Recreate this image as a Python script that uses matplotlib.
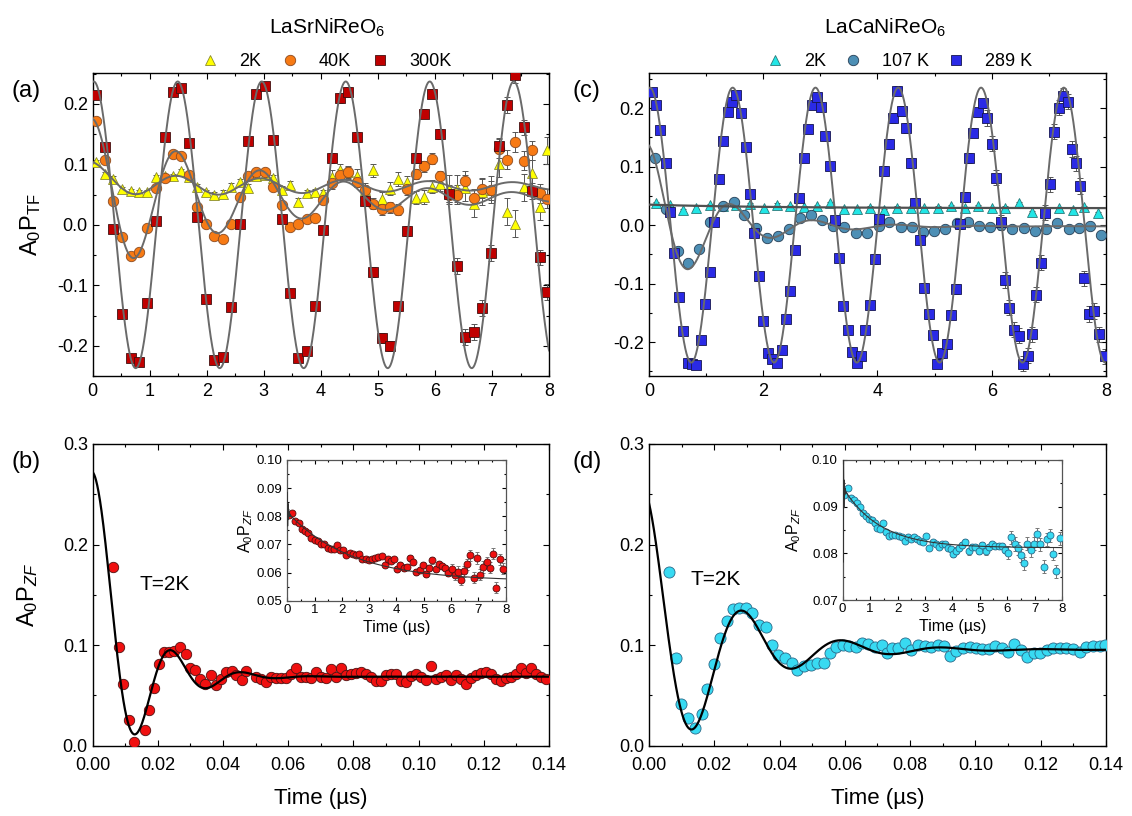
import numpy as np
import matplotlib
matplotlib.use("Agg")
import matplotlib.pyplot as plt
from matplotlib.ticker import MultipleLocator, FormatStrFormatter

plt.rcParams['font.family'] = ['Liberation Sans', 'DejaVu Sans']
plt.rcParams['mathtext.fontset'] = 'custom'
plt.rcParams['mathtext.rm'] = 'Liberation Sans'
plt.rcParams['mathtext.it'] = 'Liberation Sans:italic'
plt.rcParams['mathtext.default'] = 'regular'
plt.rcParams['axes.unicode_minus'] = False

# ---------------- panel (a): LaSrNiReO6, transverse field ----------------
t_a = [0.06, 0.21, 0.36, 0.51, 0.67, 0.81, 0.96, 1.11, 1.26, 1.40,
       1.54, 1.69, 1.83, 1.99, 2.13, 2.28, 2.43, 2.58, 2.73, 2.87,
       3.02, 3.16, 3.31, 3.46, 3.60, 3.75, 3.90, 4.04, 4.19, 4.33,
       4.47, 4.63, 4.77, 4.92, 5.07, 5.21, 5.36, 5.51, 5.66, 5.80,
       5.94, 6.09, 6.24, 6.38, 6.53, 6.68, 6.83, 6.98, 7.12, 7.26,
       7.41, 7.56, 7.71, 7.85, 7.97]
a_300K = [0.214, 0.129, -0.007, -0.147, -0.221, -0.227, -0.130, 0.007, 0.145, 0.219,
          0.227, 0.136, 0.013, -0.122, -0.223, -0.218, -0.136, 0.002, 0.139, 0.216,
          0.229, 0.141, 0.010, -0.113, -0.220, -0.209, -0.134, -0.009, 0.111, 0.210,
          0.220, 0.145, 0.040, -0.078, -0.187, -0.200, -0.135, -0.010, 0.110, 0.184,
          0.217, 0.150, 0.051, -0.068, -0.186, -0.177, -0.137, -0.047, 0.131, 0.198,
          0.248, 0.161, 0.056, -0.054, -0.111]
a_40K = [0.171, 0.108, 0.040, -0.020, -0.052, -0.045, -0.006, 0.061, 0.078, 0.117,
         0.113, 0.083, 0.030, 0.001, -0.019, -0.023, 0.001, 0.046, 0.081, 0.088,
         0.087, 0.062, 0.032, -0.003, 0.001, 0.009, 0.012, 0.041, 0.069, 0.083,
         0.087, 0.071, 0.057, 0.035, 0.026, 0.029, 0.025, 0.059, 0.084, 0.097,
         0.109, 0.080, 0.050, 0.050, 0.073, 0.044, 0.060, 0.057, 0.126, 0.108,
         0.137, 0.106, 0.123, 0.052, 0.043]
a_2K = [0.104, 0.084, 0.076, 0.059, 0.056, 0.054, 0.054, 0.079, 0.080, 0.080,
        0.089, 0.079, 0.063, 0.054, 0.049, 0.051, 0.063, 0.070, 0.061, 0.081,
        0.083, 0.077, 0.058, 0.066, 0.038, 0.052, 0.054, 0.052, 0.079, 0.090,
        0.087, 0.081, 0.058, 0.090, 0.043, 0.060, 0.076, 0.070, 0.045, 0.046,
        0.063, 0.067, 0.060, 0.060, 0.061, 0.035, 0.055, 0.058, 0.101, 0.022,
        0.002, 0.062, 0.086, 0.030, 0.123]
err_a_300K = [0.003] * 14 + [0.005] * 14 + [0.008] * 14 + [0.013] * 13
err_a_40K = [0.003] * 14 + [0.005] * 14 + [0.009] * 14 + [0.016] * 13
err_a_2K = [0.004] * 14 + [0.006] * 14 + [0.011] * 14 + [0.022] * 13

# fit parameters
freq_a = 0.679
fit_a_300K = dict(amp=0.237, phase=-0.075)
fit_a_40K = dict(base=0.045, amp=0.13, rate=0.36)
fit_a_2K = dict(base=0.064, slow_amp=0.02, slow_rate=2.0, amp=0.02, rate=0.15)

# ---------------- panel (c): LaCaNiReO6, transverse field ----------------
t_c_289K = [0.05, 0.12, 0.20, 0.29, 0.36, 0.43, 0.52, 0.60, 0.68, 0.75,
            0.83, 0.91, 0.98, 1.07, 1.14, 1.23, 1.30, 1.38, 1.45, 1.53,
            1.61, 1.69, 1.77, 1.84, 1.93, 2.00, 2.08, 2.16, 2.24, 2.33,
            2.40, 2.47, 2.56, 2.63, 2.71, 2.78, 2.86, 2.94, 3.01, 3.09,
            3.17, 3.25, 3.33, 3.40, 3.48, 3.56, 3.64, 3.72, 3.79, 3.87,
            3.95, 4.03, 4.11, 4.20, 4.27, 4.35, 4.43, 4.50, 4.58, 4.66,
            4.74, 4.81, 4.90, 4.97, 5.05, 5.13, 5.21, 5.29, 5.37, 5.44,
            5.53, 5.60, 5.68, 5.76, 5.84, 5.92, 6.00, 6.07, 6.17, 6.23,
            6.31, 6.39, 6.48, 6.55, 6.63, 6.70, 6.78, 6.86, 6.94, 7.02,
            7.09, 7.18, 7.25, 7.33, 7.41, 7.48, 7.54, 7.62, 7.71, 7.79,
            7.87, 7.98]
c_289K = [0.227, 0.205, 0.162, 0.106, 0.023, -0.047, -0.123, -0.181, -0.235, -0.238,
          -0.239, -0.197, -0.135, -0.080, 0.005, 0.078, 0.143, 0.194, 0.211, 0.223,
          0.191, 0.134, 0.054, -0.014, -0.087, -0.164, -0.218, -0.229, -0.235, -0.213,
          -0.161, -0.113, -0.042, 0.046, 0.114, 0.165, 0.205, 0.219, 0.202, 0.152,
          0.101, 0.008, -0.056, -0.139, -0.180, -0.217, -0.235, -0.223, -0.179, -0.137,
          -0.058, 0.010, 0.093, 0.139, 0.183, 0.230, 0.195, 0.166, 0.106, 0.038,
          -0.025, -0.107, -0.152, -0.188, -0.237, -0.219, -0.203, -0.153, -0.109, 0.002,
          0.048, 0.115, 0.158, 0.193, 0.208, 0.183, 0.139, 0.081, 0.005, -0.094,
          -0.141, -0.179, -0.189, -0.237, -0.223, -0.187, -0.119, -0.064, 0.021, 0.070,
          0.160, 0.201, 0.221, 0.211, 0.130, 0.106, 0.067, -0.091, -0.152, -0.147,
          -0.187, -0.224]
err_c_289K = [0.003] * 25 + [0.005] * 25 + [0.008] * 25 + [0.013] * 27

t_c_107K = [0.11, 0.29, 0.51, 0.69, 0.88, 1.07, 1.29, 1.49, 1.67, 1.88,
            2.07, 2.26, 2.46, 2.65, 2.84, 3.03, 3.23, 3.42, 3.62, 3.81,
            4.02, 4.21, 4.41, 4.60, 4.80, 4.99, 5.19, 5.39, 5.58, 5.77,
            5.97, 6.16, 6.36, 6.56, 6.75, 6.95, 7.15, 7.35, 7.53, 7.72,
            7.91]
c_107K = [0.114, 0.027, -0.045, -0.065, -0.041, 0.005, 0.032, 0.039, 0.017, -0.005,
          -0.022, -0.018, -0.006, 0.013, 0.017, 0.009, -0.002, -0.004, -0.014, -0.013,
          -0.002, 0.005, -0.003, -0.003, -0.011, -0.010, -0.006, 0.003, 0.005, -0.001,
          -0.003, 0.000, -0.006, -0.005, -0.010, -0.006, 0.004, -0.006, -0.005, -0.001,
          -0.017]
err_c_107K = [0.004] * 41

t_c_2K = [0.12, 0.36, 0.60, 0.83, 1.07, 1.30, 1.53, 1.77, 2.01, 2.24,
          2.47, 2.71, 2.94, 3.17, 3.41, 3.64, 3.87, 4.11, 4.35, 4.58,
          4.82, 5.06, 5.29, 5.53, 5.76, 6.00, 6.23, 6.47, 6.70, 6.94,
          7.18, 7.42, 7.62, 7.86]
c_2K = [0.038, 0.034, 0.026, 0.030, 0.034, 0.033, 0.034, 0.036, 0.029, 0.035,
        0.032, 0.031, 0.033, 0.037, 0.027, 0.028, 0.030, 0.025, 0.030, 0.029,
        0.029, 0.030, 0.032, 0.029, 0.032, 0.029, 0.030, 0.038, 0.022, 0.025,
        0.029, 0.026, 0.031, 0.021]
err_c_2K = [0.002] * 34

freq_c = 0.690
fit_c_289K = dict(amp=0.235, phase=-0.07)
fit_c_107K = dict(base=-0.002, amp=0.138, rate=0.9)
fit_c_2K = dict(base=0.029, amp=0.006, rate=0.5)

# ---------------- panel (b): LaSrNiReO6, zero field, T=2K ----------------
t_b = [0.0063, 0.0080, 0.0094, 0.0111, 0.0126, 0.0159, 0.0173, 0.0189, 0.0204, 0.0218,
       0.0234, 0.0250, 0.0267, 0.0285, 0.0298, 0.0314, 0.0329, 0.0346, 0.0362, 0.0377,
       0.0393, 0.0410, 0.0426, 0.0441, 0.0457, 0.0471, 0.0502, 0.0517, 0.0533, 0.0548,
       0.0563, 0.0579, 0.0594, 0.0609, 0.0624, 0.0640, 0.0655, 0.0670, 0.0686, 0.0701,
       0.0716, 0.0732, 0.0747, 0.0762, 0.0778, 0.0793, 0.0808, 0.0823, 0.0839, 0.0854,
       0.0869, 0.0885, 0.0900, 0.0915, 0.0931, 0.0946, 0.0961, 0.0977, 0.0992, 0.1007,
       0.1022, 0.1038, 0.1053, 0.1068, 0.1084, 0.1099, 0.1114, 0.1130, 0.1145, 0.1160,
       0.1176, 0.1191, 0.1206, 0.1221, 0.1237, 0.1252, 0.1267, 0.1283, 0.1298, 0.1313,
       0.1329, 0.1344, 0.1359, 0.1374, 0.1390]
b_2K = [0.178, 0.0985, 0.061, 0.026, 0.0035, 0.016, 0.035, 0.057, 0.081, 0.0935,
        0.0935, 0.094, 0.0985, 0.091, 0.0775, 0.075, 0.066, 0.061, 0.070, 0.060,
        0.066, 0.0735, 0.0745, 0.070, 0.065, 0.0745, 0.0686, 0.066, 0.0636, 0.0686,
        0.067, 0.067, 0.067, 0.0713, 0.0769, 0.0686, 0.0686, 0.067, 0.0736, 0.0686,
        0.067, 0.0759, 0.0686, 0.0776, 0.0703, 0.0713, 0.0719, 0.0736, 0.0713, 0.0686,
        0.0643, 0.0643, 0.0699, 0.0713, 0.0709, 0.0643, 0.0636, 0.0693, 0.0713, 0.0686,
        0.0653, 0.0792, 0.066, 0.068, 0.0703, 0.0653, 0.0703, 0.066, 0.0613, 0.067,
        0.0703, 0.0719, 0.0736, 0.0713, 0.066, 0.0646, 0.067, 0.0686, 0.0713, 0.0769,
        0.0719, 0.0776, 0.0713, 0.0686, 0.066]
err_b = [0.003] * 85
# Bessel-type (incommensurate order) fit
fit_b = dict(base=0.0686, amp=0.2034, omega=288.0, rate=18.0, gauss=700.0)

# inset of (b): long time window
t_bi = [0.06, 0.17, 0.29, 0.415, 0.525, 0.65, 0.77, 0.88, 1.00, 1.12,
        1.23, 1.355, 1.48, 1.60, 1.71, 1.81, 1.93, 2.05, 2.16, 2.28,
        2.39, 2.52, 2.64, 2.75, 2.87, 2.98, 3.10, 3.22, 3.33, 3.455,
        3.565, 3.675, 3.80, 3.92, 4.03, 4.14, 4.26, 4.38, 4.49, 4.615,
        4.725, 4.85, 4.96, 5.08, 5.20, 5.31, 5.43, 5.54, 5.665, 5.79,
        5.90, 6.02, 6.14, 6.25, 6.36, 6.47, 6.59, 6.70, 6.83, 6.95,
        7.07, 7.18, 7.30, 7.42, 7.55, 7.64, 7.78, 7.89]
bi_2K = [0.0805, 0.0813, 0.0783, 0.0776, 0.0755, 0.0749, 0.0739, 0.0724, 0.0717, 0.0712,
         0.0701, 0.0701, 0.0687, 0.0685, 0.0685, 0.0697, 0.0680, 0.0682, 0.0664, 0.0671,
         0.0666, 0.0662, 0.0665, 0.0649, 0.0649, 0.0643, 0.0648, 0.0652, 0.0656, 0.0660,
         0.0626, 0.0649, 0.0642, 0.0650, 0.0614, 0.0626, 0.0618, 0.0621, 0.0653, 0.0637,
         0.0601, 0.0609, 0.0628, 0.0596, 0.0616, 0.0643, 0.0614, 0.0630, 0.0622, 0.0615,
         0.0600, 0.0611, 0.0592, 0.0603, 0.0575, 0.0604, 0.0630, 0.0661, 0.0582, 0.0652,
         0.0592, 0.0620, 0.0637, 0.0617, 0.0667, 0.0547, 0.0647, 0.0614]
err_bi = [0.0003] * 17 + [0.0006] * 17 + [0.0011] * 17 + [0.0020] * 17
fit_bi = dict(base=0.057, amp=0.0245, rate=0.43, fast_amp=0.007, fast_rate=30.0, freq=40.0)

# ---------------- panel (d): LaCaNiReO6, zero field, T=2K ----------------
t_d = [0.0062, 0.0084, 0.0098, 0.0120, 0.0141, 0.0161, 0.0179, 0.0199, 0.0218, 0.0238,
       0.0256, 0.0277, 0.0297, 0.0317, 0.0337, 0.0357, 0.0378, 0.0396, 0.0416, 0.0437,
       0.0455, 0.0476, 0.0495, 0.0515, 0.0536, 0.0554, 0.0574, 0.0595, 0.0613, 0.0634,
       0.0654, 0.0672, 0.0693, 0.0713, 0.0728, 0.0744, 0.0764, 0.0785, 0.0804, 0.0824,
       0.0845, 0.0865, 0.0885, 0.0905, 0.0921, 0.0942, 0.0962, 0.0983, 0.1001, 0.1021,
       0.1042, 0.1061, 0.1080, 0.1100, 0.1118, 0.1139, 0.1159, 0.1179, 0.1199, 0.1219,
       0.1238, 0.1258, 0.1279, 0.1299, 0.1319, 0.1340, 0.1360, 0.1381, 0.1396]
d_2K = [0.173, 0.087, 0.041, 0.028, 0.018, 0.031, 0.056, 0.081, 0.107, 0.124,
        0.136, 0.137, 0.137, 0.132, 0.120, 0.118, 0.100, 0.090, 0.087, 0.082,
        0.0755, 0.079, 0.080, 0.082, 0.0826, 0.092, 0.098, 0.100, 0.099, 0.098,
        0.102, 0.101, 0.098, 0.100, 0.092, 0.097, 0.097, 0.102, 0.095, 0.100,
        0.099, 0.098, 0.100, 0.099, 0.089, 0.094, 0.097, 0.098, 0.097, 0.096,
        0.096, 0.099, 0.097, 0.093, 0.101, 0.095, 0.088, 0.092, 0.092, 0.095,
        0.097, 0.097, 0.097, 0.096, 0.093, 0.098, 0.099, 0.099, 0.100]
err_d = [0.002] * 69
fit_d = dict(base=0.0955, amp=0.150, rate=46.9, freq=32.8, phase=0.236)

# inset of (d): long time window
t_di = [0.05, 0.18, 0.30, 0.41, 0.535, 0.63, 0.74, 0.85, 0.96, 1.07,
        1.18, 1.24, 1.36, 1.47, 1.59, 1.70, 1.81, 1.92, 2.04, 2.15,
        2.26, 2.38, 2.49, 2.60, 2.71, 2.83, 2.94, 3.05, 3.16, 3.28,
        3.39, 3.50, 3.62, 3.73, 3.84, 3.96, 4.02, 4.13, 4.24, 4.35,
        4.47, 4.60, 4.72, 4.84, 4.97, 5.09, 5.22, 5.33, 5.45, 5.57,
        5.69, 5.81, 5.93, 6.04, 6.15, 6.27, 6.38, 6.50, 6.63, 6.74,
        6.86, 6.97, 7.09, 7.21, 7.33, 7.44, 7.56, 7.68, 7.79, 7.93]
di_2K = [0.0925, 0.0940, 0.0919, 0.0914, 0.0907, 0.0900, 0.0886, 0.0880, 0.0874, 0.0871,
         0.0864, 0.0854, 0.0852, 0.0864, 0.0846, 0.0837, 0.0839, 0.0840, 0.0837, 0.0836,
         0.0827, 0.0836, 0.0830, 0.0834, 0.0831, 0.0826, 0.0824, 0.0837, 0.0811, 0.0825,
         0.0821, 0.0814, 0.0819, 0.0819, 0.0812, 0.0809, 0.0799, 0.0806, 0.0811, 0.0818,
         0.0824, 0.0804, 0.0814, 0.0814, 0.0806, 0.0818, 0.0804, 0.0814, 0.0819, 0.0816,
         0.0816, 0.0816, 0.0807, 0.0801, 0.0834, 0.0820, 0.0811, 0.0796, 0.0779, 0.0821,
         0.0807, 0.0821, 0.0841, 0.0819, 0.0771, 0.0830, 0.0839, 0.0799, 0.0762, 0.0832]
err_di = [0.0002] * 18 + [0.0004] * 18 + [0.0007] * 17 + [0.0014] * 17
fit_di = dict(base=0.0812, amp=0.013, rate=0.74, fast_amp=0.031, fast_rate=45.0, freq=32.8)


def bessel_j0(x):
    # J0(x) = 1/pi * integral_0^pi cos(x sin th) dth, midpoint rule
    th = (np.arange(400) + 0.5) * np.pi / 400
    return np.cos(np.outer(x, np.sin(th))).mean(axis=1)


# ------------------------------------------------------------------------
fig = plt.figure(figsize=(11.32, 8.16), dpi=100)

ax_a = fig.add_axes([0.0819, 0.5392, 0.4031, 0.3713])
ax_c = fig.add_axes([0.5733, 0.5392, 0.4037, 0.3713])
ax_b = fig.add_axes([0.0819, 0.0862, 0.4031, 0.3697])
ax_d = fig.add_axes([0.5733, 0.0862, 0.4037, 0.3697])
ax_bi = fig.add_axes([0.2538, 0.2638, 0.1929, 0.1725])
ax_di = fig.add_axes([0.7444, 0.2647, 0.1938, 0.1716])


def style(ax, size=13, major=4, minor=2, xpad=5):
    ax.tick_params(which='both', direction='in', top=True, right=True,
                   labelsize=size, width=0.8)
    ax.tick_params(which='major', length=major)
    ax.tick_params(which='minor', length=minor)
    ax.tick_params(axis='x', pad=xpad)
    for s in ax.spines.values():
        s.set_linewidth(1.0)


def points(ax, t, y, err, marker, face, edge, ms, label=None, ecolor='#555555', cap=2.2):
    ax.errorbar(t, y, yerr=err, fmt='none', ecolor=ecolor, elinewidth=0.7,
                capsize=cap, capthick=0.7, zorder=2)
    ax.plot(t, y, linestyle='none', marker=marker, markerfacecolor=face,
            markeredgecolor=edge, markeredgewidth=0.6, markersize=ms,
            label=label, zorder=3)


tt = np.linspace(0, 8, 2000)
grey = '#6a6a6a'

# ---- (a)
points(ax_a, t_a, a_2K, err_a_2K, '^', '#ffff00', '#8a8a30', 7.5, '2K')
points(ax_a, t_a, a_40K, err_a_40K, 'o', '#f77a14', '#8a4a20', 7.5, '40K')
points(ax_a, t_a, a_300K, err_a_300K, 's', '#c00000', '#401010', 6.5, '300K')
w_a = 2 * np.pi * freq_a
ax_a.plot(tt, fit_a_300K['amp'] * np.cos(w_a * tt + fit_a_300K['phase']),
          color=grey, lw=1.4, zorder=4)
ax_a.plot(tt, fit_a_40K['base'] + fit_a_40K['amp'] * np.exp(-fit_a_40K['rate'] * tt)
          * np.cos(w_a * tt), color=grey, lw=1.4, zorder=4)
ax_a.plot(tt, fit_a_2K['base'] + fit_a_2K['slow_amp'] * np.exp(-fit_a_2K['slow_rate'] * tt)
          + fit_a_2K['amp'] * np.exp(-fit_a_2K['rate'] * tt) * np.cos(w_a * tt),
          color=grey, lw=1.4, zorder=4)
ax_a.set_xlim(0, 8)
ax_a.set_ylim(-0.25, 0.251)
ax_a.xaxis.set_major_locator(MultipleLocator(1))
ax_a.xaxis.set_minor_locator(MultipleLocator(0.5))
ax_a.yaxis.set_major_locator(MultipleLocator(0.1))
ax_a.yaxis.set_minor_locator(MultipleLocator(0.05))
ax_a.yaxis.set_major_formatter(FormatStrFormatter('%.1f'))
ax_a.set_ylabel(r'A$_0$P$_{TF}$', fontsize=17)
ax_a.yaxis.set_label_coords(-0.11, 0.5)
style(ax_a)
ax_a.legend(loc='lower center', bbox_to_anchor=(0.51, 0.985), ncol=3, frameon=False,
            fontsize=13, handletextpad=1.0, columnspacing=1.0, borderaxespad=0.0,
            handlelength=1.2)

# ---- (c)
points(ax_c, t_c_2K, c_2K, err_c_2K, '^', '#22e6e6', '#2a7a7a', 7.0, '2K')
points(ax_c, t_c_107K, c_107K, err_c_107K, 'o', '#4d8fb5', '#253e55', 7.5, '107 K')
points(ax_c, t_c_289K, c_289K, err_c_289K, 's', '#2a2ae6', '#151550', 6.5, '289 K')
w_c = 2 * np.pi * freq_c
ax_c.plot(tt, fit_c_289K['amp'] * np.cos(w_c * tt + fit_c_289K['phase']),
          color=grey, lw=1.4, zorder=4)
ax_c.plot(tt, fit_c_107K['base'] + fit_c_107K['amp'] * np.exp(-fit_c_107K['rate'] * tt)
          * np.cos(w_c * tt), color=grey, lw=1.4, zorder=4)
ax_c.plot(tt, fit_c_2K['base'] + fit_c_2K['amp'] * np.exp(-fit_c_2K['rate'] * tt),
          color='#505050', lw=1.6, zorder=4)
ax_c.set_xlim(0, 8)
ax_c.set_ylim(-0.258, 0.26)
ax_c.xaxis.set_major_locator(MultipleLocator(2))
ax_c.xaxis.set_minor_locator(MultipleLocator(1))
ax_c.yaxis.set_major_locator(MultipleLocator(0.1))
ax_c.yaxis.set_minor_locator(MultipleLocator(0.05))
ax_c.yaxis.set_major_formatter(FormatStrFormatter('%.1f'))
style(ax_c)
ax_c.legend(loc='lower center', bbox_to_anchor=(0.545, 0.985), ncol=3, frameon=False,
            fontsize=13, handletextpad=1.0, columnspacing=0.9, borderaxespad=0.0,
            handlelength=1.2)

# ---- (b)
tb = np.linspace(0, 0.14, 1500)
points(ax_b, t_b, b_2K, err_b, 'o', '#f01010', '#501010', 7.5, ecolor='#666666', cap=2.0)
env_b = np.exp(-fit_b['rate'] * tb - fit_b['gauss'] * tb ** 2)
ax_b.plot(tb, fit_b['base'] + fit_b['amp'] * bessel_j0(fit_b['omega'] * tb) * env_b,
          color='black', lw=1.6, zorder=4)
ax_b.set_xlim(0, 0.14)
ax_b.set_ylim(0, 0.3)
ax_b.xaxis.set_major_locator(MultipleLocator(0.02))
ax_b.xaxis.set_minor_locator(MultipleLocator(0.01))
ax_b.yaxis.set_major_locator(MultipleLocator(0.1))
ax_b.yaxis.set_minor_locator(MultipleLocator(0.05))
ax_b.xaxis.set_major_formatter(FormatStrFormatter('%.2f'))
ax_b.yaxis.set_major_formatter(FormatStrFormatter('%.1f'))
ax_b.set_ylabel(r'A$_0$P$_{\mathit{ZF}}$', fontsize=17)
ax_b.yaxis.set_label_coords(-0.115, 0.5)
ax_b.set_xlabel('Time (µs)', fontsize=16, labelpad=10)
ax_b.text(0.0145, 0.16, 'T=2K', fontsize=15, va='center')
style(ax_b, xpad=8)

# ---- (d)
points(ax_d, t_d, d_2K, err_d, 'o', '#38daf2', '#2a6a8a', 8.0, ecolor='#666666', cap=2.0)
ax_d.plot(tb, fit_d['base'] + fit_d['amp'] * np.exp(-fit_d['rate'] * tb)
          * np.cos(2 * np.pi * fit_d['freq'] * tb + fit_d['phase']),
          color='black', lw=1.6, zorder=4)
ax_d.set_xlim(0, 0.14)
ax_d.set_ylim(0, 0.3)
ax_d.xaxis.set_major_locator(MultipleLocator(0.02))
ax_d.xaxis.set_minor_locator(MultipleLocator(0.01))
ax_d.yaxis.set_major_locator(MultipleLocator(0.1))
ax_d.yaxis.set_minor_locator(MultipleLocator(0.05))
ax_d.xaxis.set_major_formatter(FormatStrFormatter('%.2f'))
ax_d.yaxis.set_major_formatter(FormatStrFormatter('%.1f'))
ax_d.set_xlabel('Time (µs)', fontsize=16, labelpad=10)
ax_d.text(0.0126, 0.165, 'T=2K', fontsize=15, va='center')
style(ax_d, xpad=8)

# ---- insets
ti = np.linspace(0, 8, 40001)
points(ax_bi, t_bi, bi_2K, err_bi, 'o', '#f01010', '#501010', 5.0, ecolor='#777777', cap=1.5)
ax_bi.plot(ti, fit_bi['base'] + fit_bi['amp'] * np.exp(-fit_bi['rate'] * ti)
           + fit_bi['fast_amp'] * np.exp(-fit_bi['fast_rate'] * ti)
           * np.cos(2 * np.pi * fit_bi['freq'] * ti), color='#333333', lw=0.8, zorder=4)
ax_bi.set_xlim(0, 8)
ax_bi.set_ylim(0.05, 0.10)
ax_bi.yaxis.set_major_locator(MultipleLocator(0.01))
ax_bi.yaxis.set_major_formatter(FormatStrFormatter('%.2f'))

points(ax_di, t_di, di_2K, err_di, 'o', '#38daf2', '#2a6a8a', 5.0, ecolor='#777777', cap=1.5)
ax_di.plot(ti, fit_di['base'] + fit_di['amp'] * np.exp(-fit_di['rate'] * ti)
           + fit_di['fast_amp'] * np.exp(-fit_di['fast_rate'] * ti)
           * np.cos(2 * np.pi * fit_di['freq'] * ti), color='#333333', lw=0.8, zorder=4)
ax_di.set_xlim(0, 8)
ax_di.set_ylim(0.07, 0.10)
ax_di.yaxis.set_major_locator(MultipleLocator(0.01))
ax_di.yaxis.set_major_formatter(FormatStrFormatter('%.2f'))

for ax, lx in ((ax_bi, -0.15), (ax_di, -0.18)):
    ax.xaxis.set_major_locator(MultipleLocator(1))
    ax.xaxis.set_minor_locator(MultipleLocator(0.5))
    ax.yaxis.set_minor_locator(MultipleLocator(0.005))
    ax.set_xlabel('Time (µs)', fontsize=11.5, labelpad=3)
    ax.set_ylabel(r'A$_0$P$_{\mathit{ZF}}$', fontsize=11.5)
    ax.yaxis.set_label_coords(lx, 0.5)
    style(ax, size=9.5, major=3, minor=1.5, xpad=2)
    for s in ax.spines.values():
        s.set_color('#555555')
        s.set_linewidth(0.9)

# titles and panel letters
fig.text(0.289, 0.966, 'LaSrNiReO$_6$', fontsize=15, ha='center', va='center')
fig.text(0.782, 0.966, 'LaCaNiReO$_6$', fontsize=15, ha='center', va='center')
fig.text(0.010, 0.889, '(a)', fontsize=17, va='center')
fig.text(0.506, 0.889, '(c)', fontsize=17, va='center')
fig.text(0.010, 0.434, '(b)', fontsize=17, va='center')
fig.text(0.506, 0.434, '(d)', fontsize=17, va='center')

fig.savefig('out.png', dpi=100)
